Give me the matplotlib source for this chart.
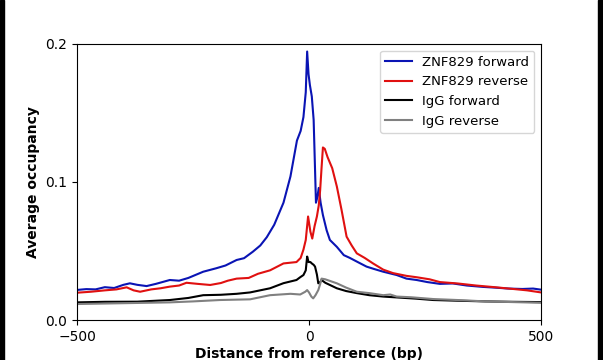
"""Average occupancy profile around reference sites."""
import matplotlib
matplotlib.use("Agg")
import matplotlib.pyplot as plt
from matplotlib.patches import Rectangle

# values (bp from reference, occupancy)
znf_fwd_x = [-500, -480, -460, -440, -420, -400, -386, -370, -350, -330, -300, -280,
             -260, -228, -200, -180, -156, -140, -121, -105, -91, -75, -55, -40,
             -26, -18, -12, -7, -4, -1, 2, 6, 10, 15, 18, 21, 25, 30, 38, 45, 60,
             75, 88, 105, 124, 140, 160, 189, 210, 232, 255, 282, 310, 340, 375,
             400, 430, 460, 483, 500]
znf_fwd_y = [0.0218, 0.0224, 0.0222, 0.0238, 0.0232, 0.0255, 0.0266, 0.0255, 0.0246,
             0.0262, 0.0290, 0.0285, 0.0305, 0.0350, 0.0375, 0.0395, 0.0435, 0.0448,
             0.0495, 0.0540, 0.0600, 0.0690, 0.0850, 0.1040, 0.1300, 0.1370, 0.1470,
             0.1650, 0.1945, 0.1780, 0.1700, 0.1620, 0.1450, 0.0850, 0.0890, 0.0957,
             0.0850, 0.0760, 0.0650, 0.0580, 0.0530, 0.0470, 0.0450, 0.0420, 0.0387,
             0.0370, 0.0350, 0.0326, 0.0300, 0.0290, 0.0275, 0.0262, 0.0265, 0.0250,
             0.0240, 0.0235, 0.0228, 0.0225, 0.0228, 0.0220]

znf_rev_x = [-500, -470, -440, -415, -393, -378, -364, -340, -320, -300, -280, -264,
             -240, -213, -190, -175, -156, -130, -110, -84, -55, -27, -18, -12, -7,
             -2, 3, 7, 12, 17, 21, 24, 27, 30, 34, 40, 50, 60, 70, 81, 92, 103, 120,
             138, 160, 181, 210, 232, 260, 282, 320, 360, 400, 440, 470, 500]
znf_rev_y = [0.0198, 0.0205, 0.0215, 0.0222, 0.0237, 0.0215, 0.0205, 0.0222, 0.0230,
             0.0242, 0.0250, 0.0270, 0.0262, 0.0254, 0.0268, 0.0285, 0.0300, 0.0305,
             0.0335, 0.0360, 0.0410, 0.0420, 0.0450, 0.0510, 0.0580, 0.0750, 0.0640,
             0.0590, 0.0680, 0.0750, 0.0830, 0.0940, 0.1100, 0.1250, 0.1240, 0.1180,
             0.1100, 0.0967, 0.0800, 0.0604, 0.0540, 0.0483, 0.0450, 0.0410, 0.0365,
             0.0340, 0.0320, 0.0310, 0.0295, 0.0275, 0.0265, 0.0250, 0.0238, 0.0225,
             0.0215, 0.0200]

igg_fwd_x = [-500, -440, -370, -300, -260, -228, -190, -156, -127, -84, -55, -27,
             -19, -12, -7, -4, -1, 3, 6, 10, 13, 17, 20, 24, 27, 35, 60, 80, 103,
             130, 160, 193, 230, 268, 320, 380, 440, 500]
igg_fwd_y = [0.0128, 0.0132, 0.0133, 0.0145, 0.0160, 0.0180, 0.0183, 0.0190, 0.0200,
             0.0230, 0.0267, 0.0290, 0.0310, 0.0326, 0.0360, 0.0460, 0.0420, 0.0420,
             0.0410, 0.0400, 0.0387, 0.0330, 0.0266, 0.0275, 0.0290, 0.0270, 0.0230,
             0.0210, 0.0195, 0.0180, 0.0170, 0.0163, 0.0155, 0.0145, 0.0140, 0.0135,
             0.0132, 0.0130]

igg_rev_x = [-500, -400, -300, -250, -192, -127, -84, -40, -19, -8, -4, 0, 5, 9, 14,
             20, 24, 27, 35, 60, 80, 103, 130, 160, 175, 189, 220, 268, 320, 380,
             440, 500]
igg_rev_y = [0.0116, 0.0122, 0.0128, 0.0135, 0.0145, 0.0150, 0.0180, 0.0190, 0.0185,
             0.0205, 0.0217, 0.0200, 0.0170, 0.0157, 0.0180, 0.0217, 0.0260, 0.0300,
             0.0295, 0.0266, 0.0235, 0.0205, 0.0195, 0.0180, 0.0185, 0.0170, 0.0165,
             0.0152, 0.0145, 0.0135, 0.0130, 0.0125]

fig = plt.figure(figsize=(6.03, 3.6), dpi=100)
ax = fig.add_axes([0.1277, 0.111, 0.7695, 0.767])

ax.plot(znf_fwd_x, znf_fwd_y, color="#0a14b4", lw=1.5, label="ZNF829 forward")
ax.plot(znf_rev_x, znf_rev_y, color="#e01010", lw=1.5, label="ZNF829 reverse")
ax.plot(igg_fwd_x, igg_fwd_y, color="black", lw=1.5, label="IgG forward")
ax.plot(igg_rev_x, igg_rev_y, color="#808080", lw=1.5, label="IgG reverse")

ax.set_xlim(-500, 500)
ax.set_ylim(0, 0.2)
ax.set_xticks([-500, 0, 500])
ax.set_yticks([0.0, 0.1, 0.2])
ax.tick_params(labelsize=10)
ax.set_xlabel("Distance from reference (bp)", fontsize=10, fontweight="bold", labelpad=2)
ax.set_ylabel("Average occupancy", fontsize=10, fontweight="bold")
ax.legend(loc="upper right", fontsize=9.5, handlelength=2.0)

# dark frame strips at the left and right edge of the picture
fig.patches.append(Rectangle((0, 0), 0.006, 1, transform=fig.transFigure,
                             color="black", zorder=10))
fig.patches.append(Rectangle((0.992, 0), 0.008, 1, transform=fig.transFigure,
                             color="black", zorder=10))

fig.savefig("out.png", dpi=100)
plt.close(fig)
